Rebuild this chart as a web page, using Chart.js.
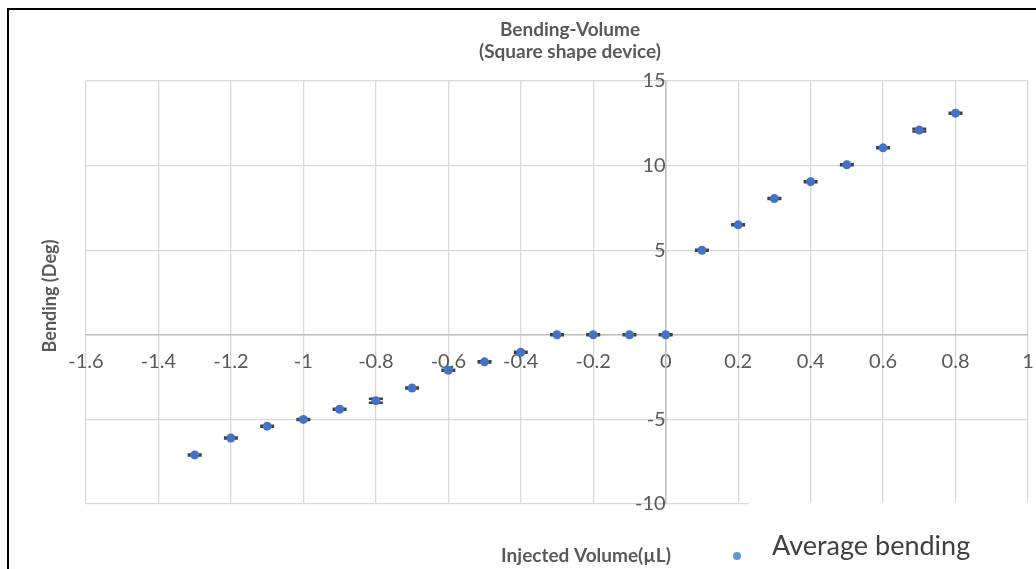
<!DOCTYPE html>
<html>
<head>
<meta charset="utf-8">
<script src="https://cdn.jsdelivr.net/npm/chart.js@4"></script>
<style>
  body { margin: 0; background: #ffffff; }
  canvas { display: block; }
</style>
</head>
<body>
<canvas id="chart_bending" width="1036" height="569"></canvas>
<script>
const volume = [-1.3, -1.2, -1.1, -1.0, -0.9, -0.8, -0.7, -0.6, -0.5, -0.4, -0.3, -0.2, -0.1, 0, 0.1, 0.2, 0.3, 0.4, 0.5, 0.6, 0.7, 0.8];
const bending = [-7.1, -6.1, -5.4, -5.0, -4.4, -3.9, -3.15, -2.1, -1.6, -1.03, 0, 0, 0, 0, 5.0, 6.5, 8.05, 9.05, 10.05, 11.05, 12.1, 13.1];
const erreur = [0.03, 0.03, 0.03, 0.03, 0.03, 0.12, 0.03, 0.03, 0.03, 0.03, 0.03, 0.03, 0.03, 0.03, 0.03, 0.03, 0.03, 0.03, 0.03, 0.03, 0.08, 0.03];
const xTicks = [-1.6, 1, 0.2];
const yTicks = [-10, 15, 5];

const canvas = document.getElementById("chart_bending");
const texte = "#595959";
const police = "Lato, 'Open Sans', sans-serif";

// barres d'erreur verticales (surtout les chapeaux, l'erreur est petite)
const barresErreur = {
  id: "barresErreur",
  beforeDatasetsDraw(chart) {
    const ctx = chart.ctx;
    const sx = chart.scales.x, sy = chart.scales.y;
    ctx.save();
    ctx.strokeStyle = "#404040";
    ctx.lineWidth = 2.5;
    volume.forEach((v, i) => {
      const px = sx.getPixelForValue(v);
      const top = sy.getPixelForValue(bending[i] + erreur[i]);
      const bot = sy.getPixelForValue(bending[i] - erreur[i]);
      ctx.beginPath();
      ctx.moveTo(px, top); ctx.lineTo(px, bot);
      ctx.moveTo(px - 7, top); ctx.lineTo(px + 7, top);
      ctx.moveTo(px - 7, bot); ctx.lineTo(px + 7, bot);
      ctx.stroke();
    });
    ctx.restore();
  },
};

// titres, légende et cadre façon Excel
const habillage = {
  id: "habillage",
  afterDraw(chart) {
    const ctx = chart.ctx;
    ctx.save();
    ctx.fillStyle = "#ffffff";
    ctx.fillRect(749, 502, 300, 80);

    ctx.fillStyle = texte;
    ctx.textAlign = "center";
    ctx.textBaseline = "middle";
    ctx.font = "bold 19px " + police;
    ctx.fillText("Bending-Volume", 570, 30);
    ctx.fillText("(Square shape device)", 570, 52);

    ctx.font = "bold 19px " + police;
    ctx.fillText("Injected Volume(µL)", 586, 556);

    ctx.save();
    ctx.translate(50, 296);
    ctx.rotate(-Math.PI / 2);
    ctx.font = "bold 18px " + police;
    ctx.fillText("Bending (Deg)", 0, 0);
    ctx.restore();

    ctx.fillStyle = "#5b9bd5";
    ctx.beginPath();
    ctx.arc(737, 556, 4, 0, Math.PI * 2);
    ctx.fill();
    ctx.fillStyle = "#404040";
    ctx.textAlign = "left";
    ctx.font = "27px " + police;
    ctx.fillText("Average bending", 772, 546);

    ctx.strokeStyle = "#000000";
    ctx.lineWidth = 2;
    ctx.beginPath();
    ctx.moveTo(8, 580); ctx.lineTo(8, 9); ctx.lineTo(1040, 9);
    ctx.stroke();
    ctx.restore();
  },
};

new Chart(canvas, {
  type: "scatter",
  data: {
    datasets: [
      {
        label: "Average bending",
        data: volume.map((v, i) => ({ x: v, y: bending[i] })),
        backgroundColor: "#4472c4",
        borderWidth: 0,
        pointRadius: 4.5,
      },
    ],
  },
  options: {
    responsive: false,
    animation: false,
    devicePixelRatio: 1,
    layout: {
      padding: { left: 86, right: 8, top: 81, bottom: 65 },
    },
    plugins: {
      legend: { display: false },
      title: { display: false },
      tooltip: { enabled: false },
    },
    scales: {
      x: {
        type: "linear",
        position: { y: 0 },
        min: xTicks[0],
        max: xTicks[1],
        afterFit: (s) => { s.paddingLeft = 0; s.paddingRight = 0; },
        ticks: {
          stepSize: xTicks[2],
          color: texte,
          font: { size: 20, family: police },
          padding: 15,
          maxRotation: 0,
          callback: (v) => String(Number(v.toFixed(1))),
        },
        grid: { color: "#d9d9d9", lineWidth: 1.3, drawTicks: false },
        border: { color: "#bfbfbf", width: 1.5 },
      },
      y: {
        type: "linear",
        position: { x: 0 },
        min: yTicks[0],
        max: yTicks[1],
        afterFit: (s) => { s.paddingTop = 0; s.paddingBottom = 0; },
        ticks: {
          stepSize: yTicks[2],
          color: texte,
          font: { size: 20, family: police },
          padding: 6,
          callback: (v) => (v === 0 ? "" : String(v)),
        },
        grid: { color: "#d9d9d9", lineWidth: 1.3, tickLength: 7, tickColor: "#bfbfbf" },
        border: { color: "#bfbfbf", width: 1.5 },
      },
    },
  },
  plugins: [barresErreur, habillage],
});
</script>
</body>
</html>
